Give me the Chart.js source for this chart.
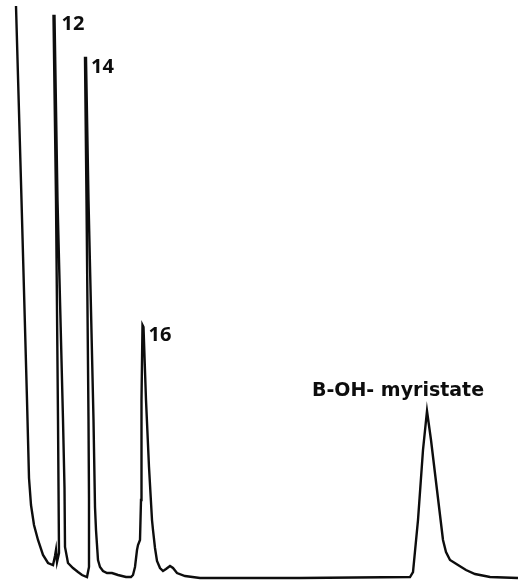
<!DOCTYPE html>
<html>
<head>
<meta charset="utf-8">
<script src="https://cdn.jsdelivr.net/npm/chart.js@4.4.1/dist/chart.umd.min.js"></script>
<style>
  html, body { margin: 0; padding: 0; background: #fff; }
  #wrap { width: 523px; height: 581px; position: relative; }
</style>
</head>
<body>
<div id="wrap"><canvas id="chromatogram"></canvas></div>
<script>
// TRACE (retention, arbitrary units / detector response, arbitrary units)
const traceTime = [
  16, 21.5, 27, 29, 31, 34, 38, 43, 48, 53, 55, 56, 57, 59, 58,
  56, 53.5, 54.5, 57.5, 63, 64.5, 65, 68, 73, 78, 82, 87, 89, 89, 88.5,
  86.5, 85, 86, 88.5, 93.5, 95, 96, 98, 100, 103, 107, 112, 118, 126, 131,
  133, 135, 137, 138, 140, 141, 141.5, 142.5, 143.5, 146, 149, 152, 153, 155, 157,
  160, 163, 166, 170, 173, 177, 185, 200, 300, 410, 413, 418, 423, 427,
  431, 437, 443, 446, 450, 458, 466, 475, 490, 518
];
const traceSignal = [
  572, 378, 178, 100, 73, 53, 38, 23, 15, 13, 22, 28, 16, 25, 158,
  378, 562, 562, 378, 158, 90, 31, 15, 10, 6, 3, 1, 11, 78, 158,
  378, 520, 520, 378, 158, 71, 48, 18, 11, 7, 5, 5, 3, 1, 1,
  3, 11, 28, 33, 38, 78, 178, 253, 251, 178, 111, 58, 48, 30, 17,
  10, 7, 9, 12, 10, 5, 2, 0, 0, 1, 6, 58, 128, 167,
  138, 88, 38, 26, 18, 13, 8, 4, 1, 0
];

// PEAK LABELS
const peakLabels = ["12", "14", "16", "B-OH- myristate"];
const peakTime = [53.5, 85, 142.5, 427];
const peakSignal = [562, 520, 253, 167];

const points = traceTime.map((t, i) => ({ x: t, y: traceSignal[i] }));

// label placement relative to each apex (pixels)
const labelOffsets = [
  { dx: 8, dy: -2, align: "left" },
  { dx: 6, dy: -1, align: "left" },
  { dx: 6, dy: 0, align: "left" },
  { dx: -29, dy: -29, align: "center" }
];

const peakLabelPlugin = {
  id: "peakLabels",
  afterDatasetsDraw(chart) {
    const { ctx, scales } = chart;
    ctx.save();
    ctx.fillStyle = "#0d0d0d";
    ctx.textBaseline = "top";
    peakLabels.forEach((txt, i) => {
      const o = labelOffsets[i];
      const x = scales.x.getPixelForValue(peakTime[i]) + o.dx;
      const y = scales.y.getPixelForValue(peakSignal[i]) + o.dy;
      ctx.font = i === 3 ? "bold 19px 'DejaVu Sans'" : "bold 20px 'Open Sans'";
      ctx.textAlign = o.align;
      ctx.fillText(txt, x, y);
    });
    ctx.restore();
  }
};

new Chart(document.getElementById("chromatogram"), {
  type: "line",
  data: {
    datasets: [
      {
        data: points,
        borderColor: "#0d0d0d",
        borderWidth: 2.4,
        pointRadius: 0,
        tension: 0,
        fill: false,
      },
    ],
  },
  options: {
    responsive: true,
    maintainAspectRatio: false,
    animation: false,
    layout: { padding: 0 },
    plugins: { legend: { display: false }, tooltip: { enabled: false } },
    scales: {
      x: { type: "linear", min: 0, max: 523, display: false },
      y: { type: "linear", min: -3, max: 578, display: false },
    },
  },
  plugins: [peakLabelPlugin],
});
</script>
</body>
</html>
